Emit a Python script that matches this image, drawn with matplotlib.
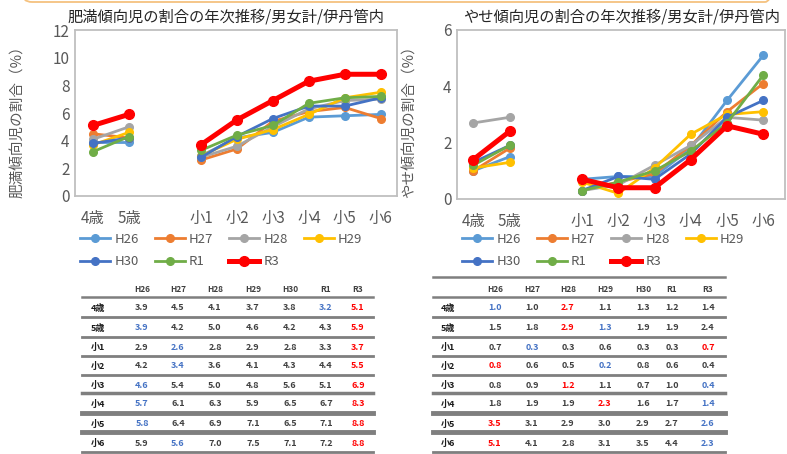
import matplotlib.pyplot as plt
import numpy as np
from matplotlib.patches import FancyBboxPatch

plt.rcParams['font.family'] = ['Noto Sans CJK JP', 'DejaVu Sans']

ages = ['4歳', '5歳', '小1', '小2', '小3', '小4', '小5', '小6']
years = ['H26', 'H27', 'H28', 'H29', 'H30', 'R1', 'R3']
colors = ['#5B9BD5', '#ED7D31', '#A5A5A5', '#FFC000', '#4472C4', '#70AD47', '#FF0000']

# rows = age, columns = year (H26 .. R3)
obese = [[3.9, 4.5, 4.1, 3.7, 3.8, 3.2, 5.1],
         [3.9, 4.2, 5.0, 4.6, 4.2, 4.3, 5.9],
         [2.9, 2.6, 2.8, 2.9, 2.8, 3.3, 3.7],
         [4.2, 3.4, 3.6, 4.1, 4.3, 4.4, 5.5],
         [4.6, 5.4, 5.0, 4.8, 5.6, 5.1, 6.9],
         [5.7, 6.1, 6.3, 5.9, 6.5, 6.7, 8.3],
         [5.8, 6.4, 6.9, 7.1, 6.5, 7.1, 8.8],
         [5.9, 5.6, 7.0, 7.5, 7.1, 7.2, 8.8]]
thin = [[1.0, 1.0, 2.7, 1.1, 1.3, 1.2, 1.4],
        [1.5, 1.8, 2.9, 1.3, 1.9, 1.9, 2.4],
        [0.7, 0.3, 0.3, 0.6, 0.3, 0.3, 0.7],
        [0.8, 0.6, 0.5, 0.2, 0.8, 0.6, 0.4],
        [0.8, 0.9, 1.2, 1.1, 0.7, 1.0, 0.4],
        [1.8, 1.9, 1.9, 2.3, 1.6, 1.7, 1.4],
        [3.5, 3.1, 2.9, 3.0, 2.9, 2.7, 2.6],
        [5.1, 4.1, 2.8, 3.1, 3.5, 4.4, 2.3]]

# highlighted cells in the tables (column index per row)
obese_lo = [5, 0, 1, 1, 0, 0, 0, 1]
obese_hi = [6, 6, 6, 6, 6, 6, 6, 6]
thin_lo = [0, 3, 1, 3, 6, 6, 6, 6]
thin_hi = [2, 2, 6, 0, 2, 3, 0, 0]

xpos = [0, 1, 3, 4, 5, 6, 7, 8]

W, H = 787, 454
fig = plt.figure(figsize=(W / 100, H / 100), dpi=100)


def draw_chart(rect, data, ymax, xlim):
    ax = fig.add_axes(rect)
    arr = np.array(data)
    for j, yr in enumerate(years):
        red = yr == 'R3'
        lw = 3.6 if red else 2.0
        ms = 7 if red else 5.5
        kw = dict(color=colors[j], lw=lw, marker='o', ms=ms, zorder=3 + red)
        ax.plot(xpos[:2], arr[:2, j], **kw)
        ax.plot(xpos[2:], arr[2:, j], label=yr, **kw)
    ax.set_ylim(0, ymax)
    ax.set_yticks(np.arange(0, ymax + 0.1, 2))
    ax.set_xlim(*xlim)
    ax.set_xticks(xpos)
    ax.set_xticklabels(ages)
    ax.tick_params(length=0, labelsize=11, colors='#595959', pad=4)
    ax.tick_params(axis='x', pad=10)
    for s in ax.spines.values():
        s.set_color('#BFBFBF')
        s.set_linewidth(1.3)
    return ax


axL = draw_chart([75 / W, 1 - 196 / H, 322 / W, 166 / H], obese, 12, (-0.5, 8.45))
axR = draw_chart([457 / W, 1 - 199 / H, 328 / W, 169 / H], thin, 6, (-0.45, 8.6))

fig.text(226 / W, 1 - 17 / H, '肥満傾向児の割合の年次推移/男女計/伊丹管内',
         ha='center', va='center', fontsize=11, color='#262626')
fig.text(622 / W, 1 - 17 / H, 'やせ傾向児の割合の年次推移/男女計/伊丹管内',
         ha='center', va='center', fontsize=11, color='#262626')
fig.text(18 / W, 1 - 118 / H, '肥満傾向児の割合（%）', rotation=90,
         ha='center', va='center', fontsize=10.5, color='#595959')
fig.text(410 / W, 1 - 118 / H, 'やせ傾向児の割合（%）', rotation=90,
         ha='center', va='center', fontsize=10.5, color='#595959')

# matplotlib fills legend columns first; reorder so rows read H26..H29 / H30, R1, R3
order = [0, 4, 1, 5, 2, 6, 3]
for ax, x0 in [(axL, 80), (axR, 462)]:
    h, l = ax.get_legend_handles_labels()
    fig.legend([h[k] for k in order], [l[k] for k in order], loc='upper left',
               bbox_to_anchor=(x0 / W, 1 - 233 / H),
               ncol=4, frameon=False, fontsize=9.5, handlelength=2.3,
               handletextpad=0.3, columnspacing=1.2, labelspacing=0.7,
               labelcolor='#595959', borderpad=0, borderaxespad=0)

# overlay in pixel coordinates for tables and frame
ov = fig.add_axes([0, 0, 1, 1])
ov.set_xlim(0, W)
ov.set_ylim(H, 0)
ov.axis('off')

ov.add_patch(FancyBboxPatch((22, -60), 753, 62, boxstyle='round,pad=0,rounding_size=10',
                            fill=False, ec='#F5C27F', lw=1.3))

row_y = [308, 328, 347, 366, 385, 404, 424, 443]
line_y = [317, 337, 356, 375, 393, 413, 432, 452]
line_w = [2.0, 2.0, 2.0, 2.0, 2.5, 3.5, 3.5, 2.0]


def draw_table(data, lo, hi, x0, x1, lab_x, col_x, top_line):
    if top_line:
        ov.plot([x0, x1], [277, 277], color='#7F7F7F', lw=1.8)
    for j, yr in enumerate(years):
        ov.text(col_x[j], 289, yr, ha='center', va='center', fontsize=6,
                fontweight='bold', color='#404040')
    ov.plot([x0, x1], [297, 297], color='#7F7F7F', lw=1.8)
    for i, age in enumerate(ages):
        ov.text(lab_x, row_y[i], age, ha='center', va='center', fontsize=6.5,
                fontweight='bold', color='#1A1A1A')
        for j in range(len(years)):
            c = '#404040'
            if j == lo[i]:
                c = '#4472C4'
            if j == hi[i]:
                c = '#FF0000'
            ov.text(col_x[j], row_y[i], f'{data[i][j]:.1f}', ha='center', va='center',
                    fontsize=6.5, fontweight='bold', color=c)
        ov.plot([x0, x1], [line_y[i], line_y[i]], color='#7F7F7F', lw=line_w[i])


draw_table(obese, obese_lo, obese_hi, 82, 373, 98, [142, 178, 215, 253, 290, 326, 358], False)
draw_table(thin, thin_lo, thin_hi, 433, 725, 448, [495, 532, 568, 605, 643, 672, 708], True)

fig.savefig('out.png', dpi=100)
